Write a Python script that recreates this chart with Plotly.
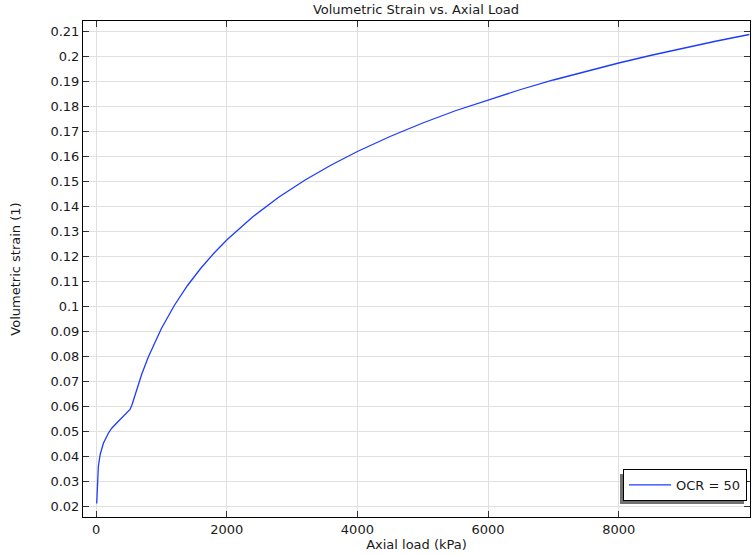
import plotly.graph_objects as go

# Data
axial_load = [10, 15, 20, 35, 61, 112, 188, 240, 342, 443, 520, 550,
              600, 700, 800, 900, 1000, 1200, 1400, 1600, 1800, 2000,
              2400, 2800, 3200, 3600, 4000, 4500, 5000, 5500, 6000,
              6500, 7000, 7500, 8000, 8500, 9000, 9500, 10000]
vol_strain = [0.0210, 0.0260, 0.0291, 0.0357, 0.0404, 0.0451, 0.0491, 0.0511, 0.0539,
              0.0566, 0.0586, 0.0605,
              0.0649, 0.0728, 0.0796, 0.0856, 0.0910, 0.1003, 0.1082, 0.1150, 0.1210,
              0.1264, 0.1357, 0.1436, 0.1504, 0.1564, 0.1618, 0.1678, 0.1732, 0.1781,
              0.1825, 0.1866, 0.1904, 0.1939, 0.1972, 0.2003, 0.2032, 0.2060, 0.2086]
series_name = "OCR = 50"

x_ticks = [0, 2000, 4000, 6000, 8000, 10000]
x_ticktext = ["0", "2000", "4000", "6000", "8000", ""]
y_ticks = [round(0.02 + 0.01 * i, 2) for i in range(20)]
y_ticktext = [f"{v:g}" for v in y_ticks]

FONT = "DejaVu Sans"
TXT = "#1a1a1a"

fig = go.Figure()
fig.add_trace(go.Scatter(x=axial_load, y=vol_strain, mode="lines", name=series_name,
                         line=dict(color="rgb(30,60,255)", width=1.3),
                         showlegend=True))

axis_common = dict(showline=True, linecolor="black", linewidth=1, mirror="allticks",
                   ticks="inside", ticklen=6, tickcolor="#333333", tickwidth=1,
                   showgrid=True, gridcolor="#e0e0e0", gridwidth=1, zeroline=False,
                   tickfont=dict(family=FONT, size=13, color=TXT))

fig.update_xaxes(range=[-200, 10010], tickmode="array", tickvals=x_ticks, ticktext=x_ticktext,
                 title=dict(text="Axial load (kPa)", font=dict(family=FONT, size=13, color=TXT),
                            standoff=2),
                 **axis_common)
fig.update_yaxes(range=[0.0156, 0.2140], tickmode="array", tickvals=y_ticks, ticktext=y_ticktext,
                 title=dict(text="Volumetric strain (1)", font=dict(family=FONT, size=13, color=TXT),
                            standoff=26),
                 **axis_common)

# legend shadow (paper coords)
fig.add_shape(type="rect", xref="paper", yref="paper",
              x0=0.8051, x1=0.9910, y0=0.0262, y1=0.0867,
              fillcolor="#707070", line=dict(width=0), layer="above")

fig.update_layout(
    width=755, height=555,
    margin=dict(l=83, r=5, t=21, b=38),
    paper_bgcolor="white", plot_bgcolor="white",
    font=dict(family=FONT, size=13, color=TXT),
    title=dict(text="Volumetric Strain vs. Axial Load", x=0.551, xanchor="center",
               y=1 - 9 / 555, yanchor="middle", yref="container",
               font=dict(family=FONT, size=13, color=TXT)),
    legend=dict(x=0.9955, xanchor="right", y=0.0323, yanchor="bottom",
                bgcolor="white", bordercolor="black", borderwidth=1, itemwidth=42,
                font=dict(family=FONT, size=13, color=TXT)),
)

fig.write_html("out.html")
